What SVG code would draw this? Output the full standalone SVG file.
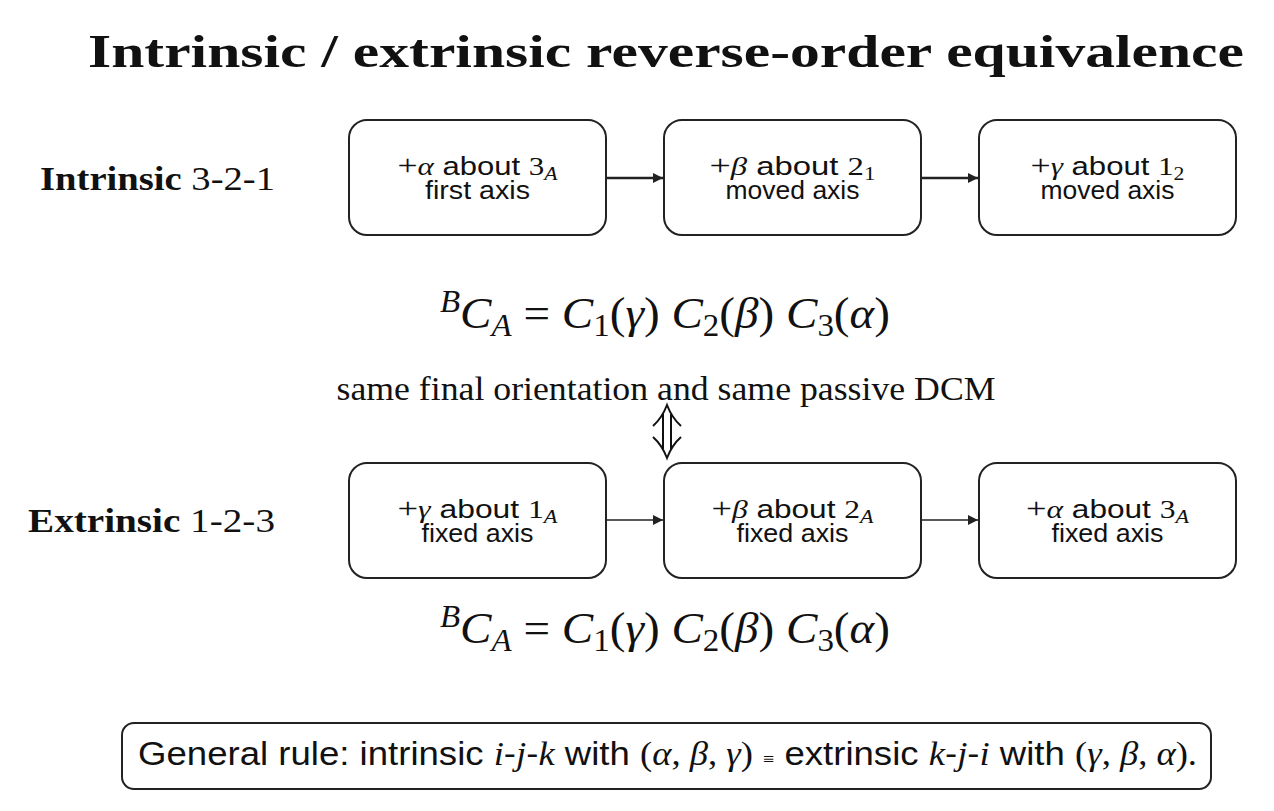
<svg xmlns="http://www.w3.org/2000/svg" width="1274" height="811" viewBox="0 0 1274 811">
<style>
.box{fill:#fff;stroke:#222;stroke-width:2}
.bt{font-family:"Liberation Sans","DejaVu Sans",sans-serif;font-size:26px;fill:#111;text-anchor:middle}
.m{font-family:"Liberation Serif","DejaVu Serif",serif;font-style:italic}
.r{font-family:"Liberation Serif","DejaVu Serif",serif;font-style:normal}
.pl{font-family:"Liberation Serif","DejaVu Serif",serif;font-size:1.15em}
.serif{font-family:"Liberation Serif","DejaVu Serif",serif;fill:#111}
.lbl{font-size:34px;text-anchor:end}
.eq{font-size:44px;text-anchor:middle}
.sub{font-size:0.7em}
</style>
<defs>
<marker id="ah2" viewBox="0 0 10 10" refX="10" refY="5" markerWidth="14" markerHeight="10" orient="auto" markerUnits="userSpaceOnUse">
<path d="M0,0 L10,5 L0,10 z" fill="#222"/>
</marker>
</defs>
<rect width="1274" height="811" fill="#fff"/>
<text x="666" y="67" class="serif" font-size="46" font-weight="bold" text-anchor="middle" textLength="1156" lengthAdjust="spacingAndGlyphs">Intrinsic / extrinsic reverse-order equivalence</text>

<text x="275" y="190" class="serif lbl" textLength="235" lengthAdjust="spacingAndGlyphs"><tspan font-weight="bold">Intrinsic</tspan> 3-2-1</text>
<text x="275" y="532" class="serif lbl" textLength="247" lengthAdjust="spacingAndGlyphs"><tspan font-weight="bold">Extrinsic</tspan> 1-2-3</text>

<g id="connectors">
<line x1="606" y1="178" x2="663" y2="178" stroke="#222" stroke-width="2.5" marker-end="url(#ah2)"/>
<line x1="921" y1="178" x2="978" y2="178" stroke="#222" stroke-width="2.5" marker-end="url(#ah2)"/>
<line x1="606" y1="520" x2="663" y2="520" stroke="#222" stroke-width="1.5" marker-end="url(#ah2)"/>
<line x1="921" y1="520" x2="978" y2="520" stroke="#222" stroke-width="1.5" marker-end="url(#ah2)"/>
<g id="equiv" fill="none" stroke="#111" stroke-width="2">
<path d="M663,414 V449 M671,414 V449"/>
<path d="M653,426 Q662,418 667,405 Q672,418 681,426"/>
<path d="M653,437 Q662,445 667,458 Q672,445 681,437"/>
</g>
</g>

<g id="i1"><rect class="box" x="349" y="120" width="257" height="115" rx="18"/>
<text class="bt" x="477.5" y="175" textLength="160" lengthAdjust="spacingAndGlyphs"><tspan class="pl">+</tspan><tspan class="m">α</tspan> about <tspan class="r">3</tspan><tspan class="m sub" dy="5">A</tspan></text>
<text class="bt" x="477.5" y="199" textLength="105" lengthAdjust="spacingAndGlyphs">first axis</text></g>
<g id="i2"><rect class="box" x="664" y="120" width="257" height="115" rx="18"/>
<text class="bt" x="792.5" y="175" textLength="166" lengthAdjust="spacingAndGlyphs"><tspan class="pl">+</tspan><tspan class="m">β</tspan> about <tspan class="r">2</tspan><tspan class="r sub" dy="5">1</tspan></text>
<text class="bt" x="792.5" y="199" textLength="134" lengthAdjust="spacingAndGlyphs">moved axis</text></g>
<g id="i3"><rect class="box" x="979" y="120" width="257" height="115" rx="18"/>
<text class="bt" x="1107.5" y="175" textLength="154" lengthAdjust="spacingAndGlyphs"><tspan class="pl">+</tspan><tspan class="m">γ</tspan> about <tspan class="r">1</tspan><tspan class="r sub" dy="5">2</tspan></text>
<text class="bt" x="1107.5" y="199" textLength="134" lengthAdjust="spacingAndGlyphs">moved axis</text></g>

<g id="e1"><rect class="box" x="349" y="463" width="257" height="115" rx="18"/>
<text class="bt" x="477.5" y="518" textLength="160" lengthAdjust="spacingAndGlyphs"><tspan class="pl">+</tspan><tspan class="m">γ</tspan> about <tspan class="r">1</tspan><tspan class="m sub" dy="5">A</tspan></text>
<text class="bt" x="477.5" y="542" textLength="112" lengthAdjust="spacingAndGlyphs">fixed axis</text></g>
<g id="e2"><rect class="box" x="664" y="463" width="257" height="115" rx="18"/>
<text class="bt" x="792.5" y="518" textLength="162" lengthAdjust="spacingAndGlyphs"><tspan class="pl">+</tspan><tspan class="m">β</tspan> about <tspan class="r">2</tspan><tspan class="m sub" dy="5">A</tspan></text>
<text class="bt" x="792.5" y="542" textLength="112" lengthAdjust="spacingAndGlyphs">fixed axis</text></g>
<g id="e3"><rect class="box" x="979" y="463" width="257" height="115" rx="18"/>
<text class="bt" x="1107.5" y="518" textLength="163" lengthAdjust="spacingAndGlyphs"><tspan class="pl">+</tspan><tspan class="m">α</tspan> about <tspan class="r">3</tspan><tspan class="m sub" dy="5">A</tspan></text>
<text class="bt" x="1107.5" y="542" textLength="112" lengthAdjust="spacingAndGlyphs">fixed axis</text></g>

<g id="eq1"><text x="665" y="328" class="serif eq" textLength="450" lengthAdjust="spacingAndGlyphs"><tspan class="m sub" dy="-16">B</tspan><tspan class="m" dy="16">C</tspan><tspan class="m sub" dy="8">A</tspan><tspan dy="-8"> = </tspan><tspan class="m">C</tspan><tspan class="sub" dy="8">1</tspan><tspan dy="-8">(</tspan><tspan class="m">γ</tspan>) <tspan class="m">C</tspan><tspan class="sub" dy="8">2</tspan><tspan dy="-8">(</tspan><tspan class="m">β</tspan>) <tspan class="m">C</tspan><tspan class="sub" dy="8">3</tspan><tspan dy="-8">(</tspan><tspan class="m">α</tspan>)</text></g>

<text x="666" y="400" class="serif" font-size="34" text-anchor="middle" textLength="659" lengthAdjust="spacingAndGlyphs">same final orientation and same passive DCM</text>

<g id="eq2"><text x="665" y="643" class="serif eq" textLength="450" lengthAdjust="spacingAndGlyphs"><tspan class="m sub" dy="-16">B</tspan><tspan class="m" dy="16">C</tspan><tspan class="m sub" dy="8">A</tspan><tspan dy="-8"> = </tspan><tspan class="m">C</tspan><tspan class="sub" dy="8">1</tspan><tspan dy="-8">(</tspan><tspan class="m">γ</tspan>) <tspan class="m">C</tspan><tspan class="sub" dy="8">2</tspan><tspan dy="-8">(</tspan><tspan class="m">β</tspan>) <tspan class="m">C</tspan><tspan class="sub" dy="8">3</tspan><tspan dy="-8">(</tspan><tspan class="m">α</tspan>)</text></g>

<g id="rule"><rect x="122" y="723" width="1089" height="66" rx="12" fill="#fff" stroke="#222" stroke-width="2"/>
<text x="667.5" y="765" font-family="Liberation Sans,DejaVu Sans,sans-serif" font-size="33" fill="#111" text-anchor="middle" textLength="1059" lengthAdjust="spacingAndGlyphs">General rule: intrinsic <tspan class="m">i</tspan>-<tspan class="m">j</tspan>-<tspan class="m">k</tspan> with <tspan class="r">(</tspan><tspan class="m">α</tspan><tspan class="r">, </tspan><tspan class="m">β</tspan><tspan class="r">, </tspan><tspan class="m">γ</tspan><tspan class="r">)</tspan>  <tspan class="r" font-size="18">≡</tspan>  extrinsic <tspan class="m">k</tspan>-<tspan class="m">j</tspan>-<tspan class="m">i</tspan> with <tspan class="r">(</tspan><tspan class="m">γ</tspan><tspan class="r">, </tspan><tspan class="m">β</tspan><tspan class="r">, </tspan><tspan class="m">α</tspan><tspan class="r">).</tspan></text></g>
</svg>
